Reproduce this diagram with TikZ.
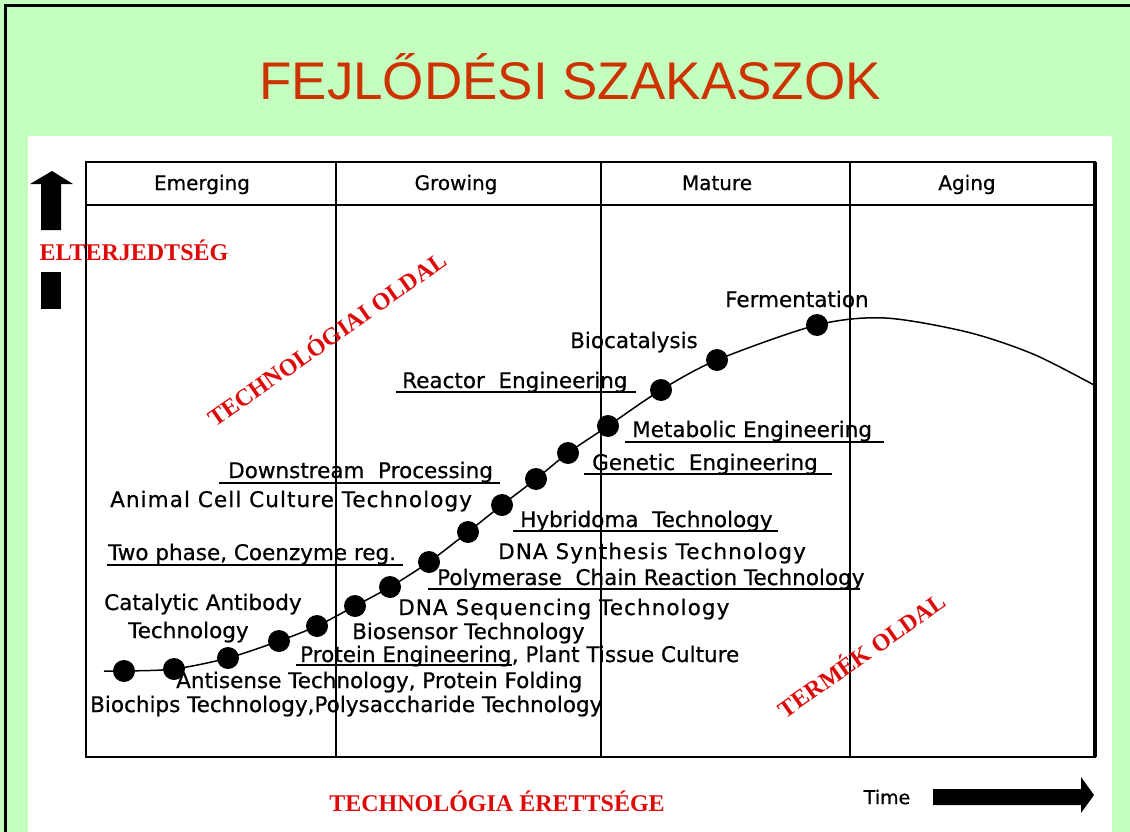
\documentclass[tikz,border=0pt]{standalone}
\usepackage{fontspec}
\setmainfont{Liberation Serif}
\newfontfamily\titlefont{Liberation Sans}
\newfontfamily\plotfont{DejaVu Sans}[FakeBold=0.6]
\newfontfamily\widefont{DejaVu Sans}[FakeBold=0.6,LetterSpace=5]
\usepackage{tikz}
\definecolor{slidegreen}{RGB}{197,255,192}
\definecolor{titlered}{RGB}{204,51,0}
\definecolor{stampred}{RGB}{222,10,10}
\tikzset{
  lbl/.style={anchor=base west,inner sep=0pt,font=\plotfont\fontsize{21.5}{24}\selectfont},
  widelbl/.style={lbl,font=\widefont\fontsize{21.5}{24}\selectfont},
  phase/.style={anchor=base,font=\plotfont\fontsize{20}{22}\selectfont},
  stamp/.style={text=stampred,inner sep=0pt,font=\bfseries\fontsize{24}{26}\selectfont},
  uline/.style={line width=1.2pt}
}

\begin{document}
\begin{tikzpicture}[x=1pt,y=-1pt]
          \fill[slidegreen] (0,0) rectangle (1130,832);
          \useasboundingbox (0,0) rectangle (1130,832);
          \draw[line width=3pt] (5.5,832) -- (5.5,6) -- (1130,6);
          \fill[white] (28,136) rectangle (1112,832);
          \node[text=titlered,font=\titlefont\fontsize{53}{60}\selectfont] (title) at (570,77) {FEJLŐDÉSI SZAKASZOK};

          \draw[line width=1.8pt] (86,162) rectangle (1095,757);
          \draw[line width=4pt] (1095,162) -- (1095,757);
          \draw[line width=1.6pt] (86,205) -- (1095,205);
          \draw[line width=1.6pt] (336,162) -- (336,757) (601,162) -- (601,757) (850,162) -- (850,757);
          \node[phase] (emerging) at (202,190) {Emerging};
          \node[phase] (growing) at (456,190) {Growing};
          \node[phase] (mature) at (717,190) {Mature};
          \node[phase] (aging) at (967,190) {Aging};

          \coordinate (start) at (104,671);
          \coordinate (p1) at (124,671);
          \coordinate (p2) at (174,669);
          \coordinate (p3) at (228,658);
          \coordinate (p4) at (279,641);
          \coordinate (p5) at (317,626);
          \coordinate (p6) at (355,606);
          \coordinate (p7) at (390,587);
          \coordinate (p8) at (429,562);
          \coordinate (p9) at (468,532);
          \coordinate (p10) at (502,505);
          \coordinate (p11) at (536,479);
          \coordinate (p12) at (568,453);
          \coordinate (p13) at (608,426);
          \coordinate (p14) at (661,390);
          \coordinate (p15) at (717,360);
          \coordinate (p16) at (817,325);
          \coordinate (peak) at (885,318);
          \coordinate (fall) at (967,332);
          \coordinate (fall2) at (1033,354);
          \coordinate (end) at (1094,385);
          \draw[line width=1.5pt] plot [mark=none, smooth, tension=0.5] coordinates {(start) (p1) (p2) (p3) (p4) (p5) (p6) (p7) (p8) (p9) (p10) (p11) (p12) (p13) (p14) (p15) (p16) (peak) (fall) (fall2) (end)};
          \foreach \i in {1,...,16}
            \fill (p\i) circle (11pt);

          \node[lbl] (ferm) at (725,307) {Fermentation};
          \node[lbl] (biocat) at (570,348) {Biocatalysis};
          \node[lbl] (reactor) at (402,388) {Reactor\ \ Engineering};
          \node[lbl] (metab) at (632,437) {Metabolic Engineering};
          \node[lbl] (genetic) at (592,470) {Genetic\ \ Engineering};
          \node[lbl] (hybrid) at (520,527) {Hybridoma\ \ Technology};
          \node[widelbl] (dnasyn) at (498,559) {DNA Synthesis Technology};
          \node[lbl] (pcr) at (437,585) {Polymerase\ \ Chain Reaction Technology};
          \node[widelbl] (dnaseq) at (398,615) {DNA Sequencing Technology};
          \node[lbl] (downstr) at (228,478) {Downstream\ \ Processing};
          \node[widelbl] (animal) at (110,507) {Animal Cell Culture Technology};
          \node[lbl] (twophase) at (108,560) {Two phase, Coenzyme reg.};
          \node[lbl] (catab) at (104,610) {Catalytic Antibody};
          \node[lbl] (catab2) at (128,638) {Technology};
          \node[lbl] (biosens) at (352,639) {Biosensor Technology};
          \node[lbl] (proteng) at (300,662) {Protein Engineering};
          \node[lbl,anchor=base west] (plant) at (proteng.base east) {, Plant Tissue Culture};
          \node[lbl] (antis) at (176,688) {Antisense Technology, Protein Folding};
          \node[lbl] (biochip) at (90,712) {Biochips Technology,Polysaccharide Technology};

          \draw[uline] ([shift={(-6,4)}]reactor.base west) -- ([shift={(8,4)}]reactor.base east);
          \draw[uline] ([shift={(-7,5)}]metab.base west) -- ([shift={(12,5)}]metab.base east);
          \draw[uline] ([shift={(-8,4)}]genetic.base west) -- ([shift={(14,4)}]genetic.base east);
          \draw[uline] ([shift={(-7,4)}]hybrid.base west) -- ([shift={(5,4)}]hybrid.base east);
          \draw[uline] ([shift={(-9,4)}]pcr.base west) -- ([shift={(-5,4)}]pcr.base east);
          \draw[uline] ([shift={(-9,5)}]downstr.base west) -- ([shift={(7,5)}]downstr.base east);
          \draw[uline] ([shift={(-1,5)}]twophase.base west) -- ([shift={(7,5)}]twophase.base east);
          \draw[uline] ([shift={(-4,3)}]proteng.base west) -- ([shift={(0,3)}]proteng.base east);

          \node[stamp] (elter) at (134,250) {ELTERJEDTSÉG};
          \node[stamp,rotate=35] (techside) at (326,338) {TECHNOLÓGIAI OLDAL};
          \node[stamp,rotate=35] (prodside) at (861,654) {TERMÉK OLDAL};
          \node[stamp] (maturity) at (497,801) {TECHNOLÓGIA ÉRETTSÉGE};

          \fill (52,171) -- (73,184) -- (61,184) -- (61,230) -- (41,230) -- (41,184) -- (30,184) -- cycle;
          \fill (41,272) rectangle (61,309);
          \node[font=\plotfont\fontsize{19}{21}\selectfont] (time) at (887,797) {Time};
          \fill (933,789) -- (1081,789) -- (1081,777) -- (1094,795) -- (1081,813) -- (1081,805) -- (933,805) -- cycle;
        \end{tikzpicture}
\end{document}
